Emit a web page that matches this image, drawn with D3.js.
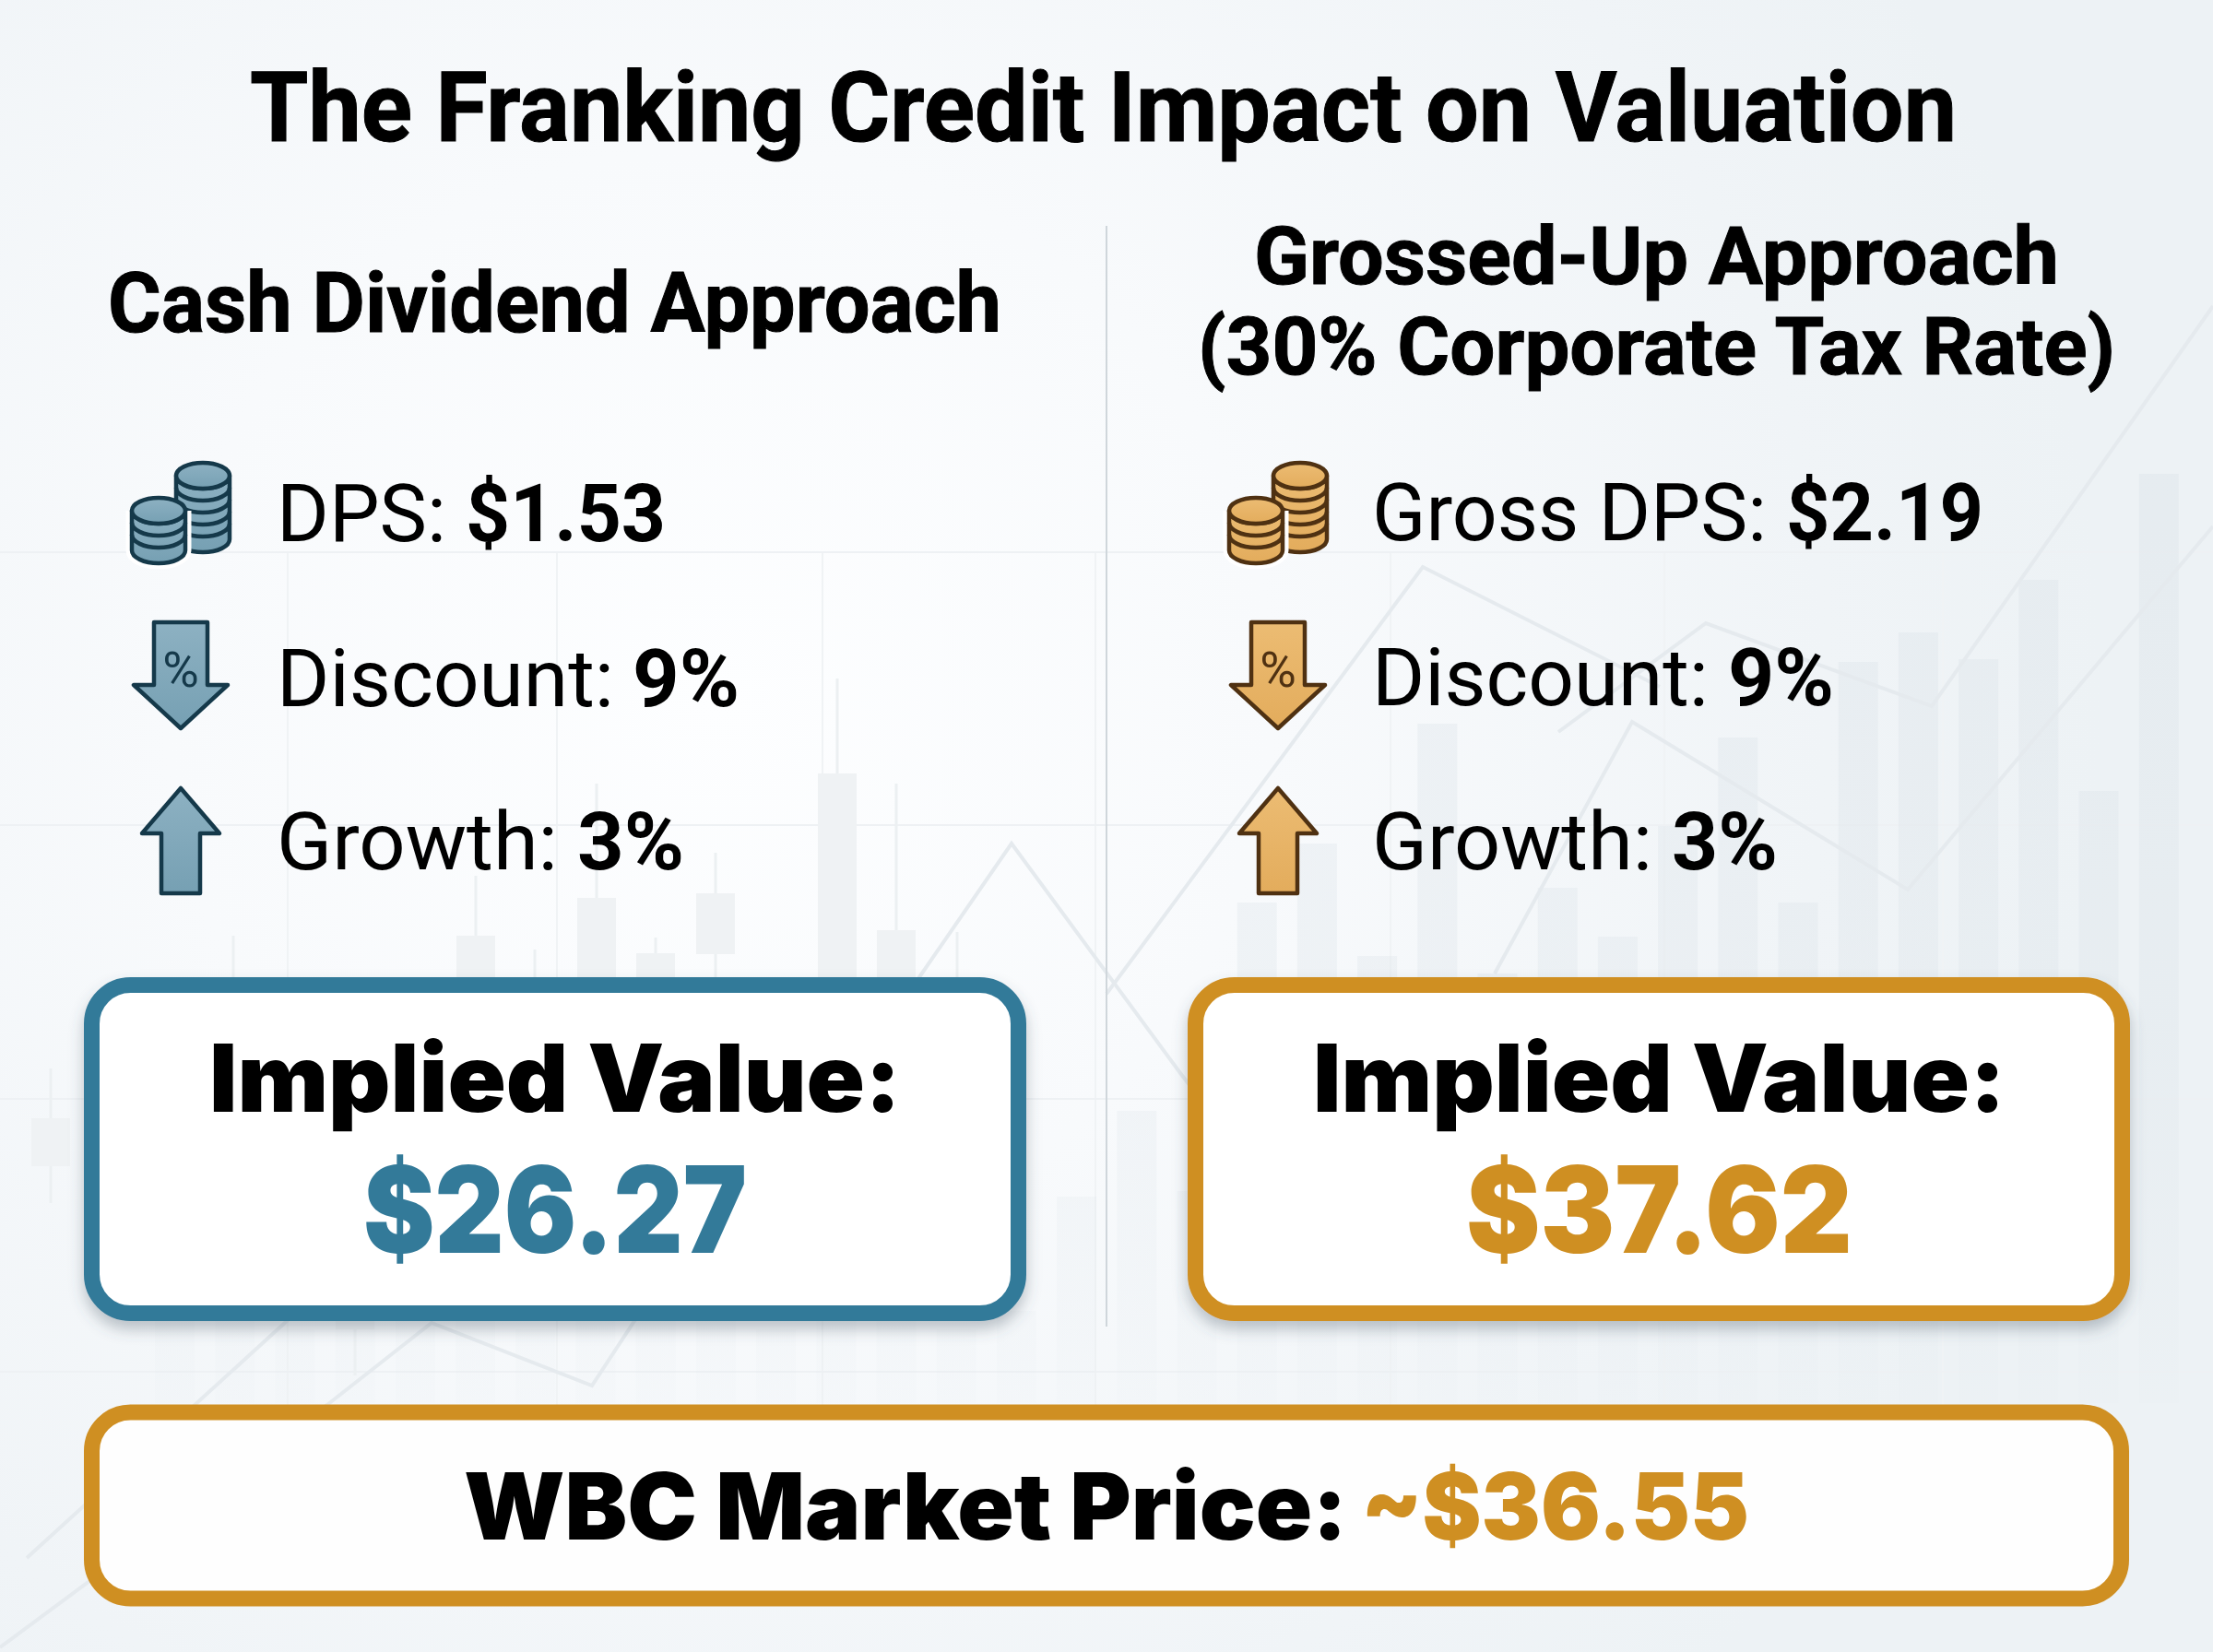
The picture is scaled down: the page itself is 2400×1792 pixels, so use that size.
<!DOCTYPE html>
<html>
<head>
<meta charset="utf-8">
<script src="https://cdn.jsdelivr.net/npm/d3@7/dist/d3.min.js"></script>
<style>
html, body { margin: 0; padding: 0; background: #fff; }
svg { display: block; }
</style>
</head>
<body>
<script>
// chart values
var titleText = "The Franking Credit Impact on Valuation";
var leftHead = ["Cash Dividend Approach"];
var rightHead = ["Grossed-Up Approach", "(30% Corporate Tax Rate)"];
var leftLabels = ["DPS:", "Discount:", "Growth:"];
var rightLabels = ["Gross DPS:", "Discount:", "Growth:"];
var leftValues = ["$1.53", "9%", "3%"];
var rightValues = ["$2.19", "9%", "3%"];
var impliedLabel = "Implied Value:";
var impliedValues = ["$26.27", "$37.62"];
var marketLabel = "WBC Market Price:";
var marketValue = "~$36.55";

// faint market picture in the background, x in tenths of the width, levels from the bottom
var barLevels = [36, 37, 35, 38, 36, 37, 35, 36, 38, 36, 35, 37, 36, 35, 37,
    49.4, 58.7, 50, 81.3, 87.7, 75.5, 100.7, 73.6, 82.9, 77.6, 89.6, 99.2, 81.3, 107.4, 110.6, 107.7, 116.3, 93.4, 127.8];
var candleX = [5.5, 25.3, 38.5, 51.6, 58, 64.7, 71.1, 77.6, 90.8, 97.2, 103.8];
var candleHigh = [63.3, 77.7, 60, 84.2, 76.2, 94.2, 77.5, 86.7, 105.6, 94.2, 78.1];
var candleTop = [57.9, 70, 55, 77.7, 70, 81.8, 75.8, 82.3, 95.3, 78.3, 70];
var candleBottom = [52.7, 60, 35, 65, 60, 65, 65, 75.7, 65, 65, 60];
var candleLow = [48.7, 55, 30, 60, 55, 60, 60, 72.7, 60, 60, 55];
var lineA = [[0, 0.5], [35.6, 26.9], [46.8, 35.7], [64.2, 28.9], [68.8, 35.9], [99.7, 73.2], [109.7, 87.7], [128, 62.8], [134, 55]];
var lineB = [[2.9, 10.2], [31.1, 35.9], [50, 55]];
var lineC = [[120, 71.4], [154.3, 117.7], [180, 104.7]];
var lineD = [[169, 99.8], [185, 111.6], [209.5, 102.6], [231.7, 134.2], [240, 146]];
var lineE = [[162.1, 73.6], [177, 100.9], [206.9, 82.7], [240, 122.1]];
var gridX = [31.2, 60.4, 89.2, 118.8, 150.8, 180.5, 210.7];
var gridY = [119.3, 89.7, 60, 30.4];

var W = 2400, H = 1792;
var blue = "#337a99", gold = "#cf8f22", ink = "#000";

var svg = d3.select("body").append("svg")
    .attr("width", W)
    .attr("height", H)
    .attr("viewBox", "0 0 " + W + " " + H);

var defs = svg.append("defs");

var bg = defs.append("radialGradient").attr("id", "bg")
    .attr("gradientUnits", "userSpaceOnUse")
    .attr("cx", 780).attr("cy", 760).attr("r", 1500);
bg.append("stop").attr("offset", 0).attr("stop-color", "#fdfeff");
bg.append("stop").attr("offset", 0.4).attr("stop-color", "#f8fafc");
bg.append("stop").attr("offset", 0.8).attr("stop-color", "#f0f4f7");
bg.append("stop").attr("offset", 1).attr("stop-color", "#edf2f5");

var barFade = defs.append("linearGradient").attr("id", "barFade")
    .attr("gradientUnits", "userSpaceOnUse")
    .attr("x1", 0).attr("x2", 0).attr("y1", 500).attr("y2", 1530);
barFade.append("stop").attr("offset", 0).attr("stop-color", "#d9e1e7").attr("stop-opacity", 0.36);
barFade.append("stop").attr("offset", 0.6).attr("stop-color", "#d9e1e7").attr("stop-opacity", 0.28);
barFade.append("stop").attr("offset", 1).attr("stop-color", "#d9e1e7").attr("stop-opacity", 0.05);

function iconFill(id, top, bottom) {
    var g = defs.append("linearGradient").attr("id", id)
        .attr("x1", 0).attr("x2", 0).attr("y1", 0).attr("y2", 1);
    g.append("stop").attr("offset", 0).attr("stop-color", top);
    g.append("stop").attr("offset", 1).attr("stop-color", bottom);
}
iconFill("blueFill", "#8db1c2", "#76a0b3");
iconFill("goldFill", "#ecbc73", "#e3ac5c");

var shadow = defs.append("filter").attr("id", "shadow")
    .attr("x", "-5%").attr("y", "-10%").attr("width", "110%").attr("height", "125%");
shadow.append("feDropShadow")
    .attr("dx", 0).attr("dy", 9).attr("stdDeviation", 8)
    .attr("flood-color", "#4a5a66").attr("flood-opacity", 0.35);

svg.append("rect").attr("width", W).attr("height", H).attr("fill", "url(#bg)");

// background scales
var xs = d3.scaleLinear().domain([0, 240]).range([0, W]);
var ys = d3.scaleLinear().domain([0, 179.2]).range([H, 0]);
var band = d3.scaleBand().domain(d3.range(barLevels.length))
    .range([157, 157 + barLevels.length * 65.2])
    .paddingInner(0.34).paddingOuter(0.17);
var line = d3.line().x(function (d) { return xs(d[0]); }).y(function (d) { return ys(d[1]); });

var back = svg.append("g");

back.append("g").selectAll("line").data(gridX).enter().append("line")
    .attr("x1", function (d) { return xs(d); })
    .attr("x2", function (d) { return xs(d); })
    .attr("y1", ys(119.3)).attr("y2", ys(26))
    .attr("stroke", "#f0f3f5").attr("stroke-width", 2);
back.append("g").selectAll("line").data(gridY).enter().append("line")
    .attr("x1", 0).attr("x2", W)
    .attr("y1", function (d) { return ys(d); })
    .attr("y2", function (d) { return ys(d); })
    .attr("stroke", "#eef1f4").attr("stroke-width", 2);

back.append("g").selectAll("rect").data(barLevels).enter().append("rect")
    .attr("x", function (d, i) { return band(i); })
    .attr("y", function (d) { return ys(d); })
    .attr("width", band.bandwidth())
    .attr("height", function (d) { return ys(27) - ys(d); })
    .attr("fill", "url(#barFade)");

back.append("g").selectAll("line").data(candleX).enter().append("line")
    .attr("x1", function (d) { return xs(d); })
    .attr("x2", function (d) { return xs(d); })
    .attr("y1", function (d, i) { return ys(candleHigh[i]); })
    .attr("y2", function (d, i) { return ys(candleLow[i]); })
    .attr("stroke", "#ecf0f2").attr("stroke-width", 3);
back.append("g").selectAll("rect").data(candleX).enter().append("rect")
    .attr("x", function (d) { return xs(d) - 21; })
    .attr("y", function (d, i) { return ys(candleTop[i]); })
    .attr("width", 42)
    .attr("height", function (d, i) { return ys(candleBottom[i]) - ys(candleTop[i]); })
    .attr("fill", "#eff2f4");

back.append("g").selectAll("path").data([lineA, lineB, lineC, lineD, lineE]).enter().append("path")
    .attr("d", line)
    .attr("fill", "none")
    .attr("stroke", "#e5eaee")
    .attr("stroke-width", 4);

// divider
svg.append("line")
    .attr("x1", 1200).attr("x2", 1200).attr("y1", 245).attr("y2", 1439)
    .attr("stroke", "#cfd6db").attr("stroke-width", 2);

// text squeezed to a measured span
function put(str, x0, x1, base, size, weight, color, family) {
    return svg.append("text")
        .attr("x", x0)
        .attr("y", base)
        .attr("textLength", x1 - x0)
        .attr("lengthAdjust", "spacingAndGlyphs")
        .attr("font-family", family || "Roboto")
        .attr("font-size", size)
        .attr("font-weight", weight)
        .attr("fill", color || ink)
        .text(str);
}

put(titleText, 271, 2122, 153, 106, 700).attr("stroke", ink).attr("stroke-width", 1);
put(leftHead[0], 117, 1086, 360, 90, 700).attr("stroke", ink).attr("stroke-width", 1);
put(rightHead[0], 1360, 2233, 308, 88, 700).attr("stroke", ink).attr("stroke-width", 1);
put(rightHead[1], 1299, 2294, 406, 88, 700).attr("stroke", ink).attr("stroke-width", 1);

var rowBase = [[587, 766, 943], [586, 765, 943]];
var leftSpans = [[300, 484, 505, 722], [300, 666, 686, 802], [300, 605, 626, 742]];
var rightSpans = [[1488, 1916, 1937, 2151], [1488, 1853, 1874, 1989], [1488, 1792, 1813, 1928]];

leftLabels.forEach(function (t, i) {
    var s = leftSpans[i];
    put(t, s[0], s[1], rowBase[0][i], 88, 400);
    put(leftValues[i], s[2], s[3], rowBase[0][i], 88, 700);
});
rightLabels.forEach(function (t, i) {
    var s = rightSpans[i];
    put(t, s[0], s[1], rowBase[1][i], 88, 400);
    put(rightValues[i], s[2], s[3], rowBase[1][i], 88, 700);
});

// icons
function coinStack(g, cx, top, bottom, rx, ry, fill, dark, halo) {
    var side = "M" + (cx - rx) + "," + (top + ry) + "V" + (bottom - ry) +
        "A" + rx + "," + ry + " 0 0 0 " + (cx + rx) + "," + (bottom - ry) +
        "V" + (top + ry) + "A" + rx + "," + ry + " 0 0 1 " + (cx - rx) + "," + (top + ry) + "Z";
    if (halo) {
        g.append("path").attr("d", side).attr("fill", "#fff").attr("stroke", "#fff").attr("stroke-width", 13);
    }
    g.append("path").attr("d", side).attr("fill", fill).attr("stroke", dark)
        .attr("stroke-width", 4.5).attr("stroke-linejoin", "round");
    var gaps = d3.range(top + ry + 13, bottom - ry - 4, 13);
    gaps.forEach(function (y) {
        g.append("path")
            .attr("d", "M" + (cx - rx) + "," + y + "A" + rx + "," + ry + " 0 0 0 " + (cx + rx) + "," + y)
            .attr("fill", "none").attr("stroke", dark).attr("stroke-width", 4.5);
    });
    g.append("ellipse").attr("cx", cx).attr("cy", top + ry).attr("rx", rx).attr("ry", ry)
        .attr("fill", fill).attr("stroke", dark).attr("stroke-width", 4.5);
}

function icons(dx, fill, dark) {
    var g = svg.append("g").attr("transform", "translate(" + dx + ",0)");
    coinStack(g, 220, 502, 599, 29, 14, fill, dark, false);
    coinStack(g, 172, 540, 611, 29, 14, fill, dark, true);

    g.append("path")
        .attr("d", "M167,675H225V743H247L196,790L145,743H167Z")
        .attr("fill", fill).attr("stroke", dark).attr("stroke-width", 4.5).attr("stroke-linejoin", "round");
    g.append("text")
        .attr("x", 196).attr("y", 745).attr("text-anchor", "middle")
        .attr("font-family", "Roboto").attr("font-size", 54).attr("font-weight", 400)
        .attr("fill", dark).text("%");

    g.append("path")
        .attr("d", "M196,855L238,904H217V969H175V904H154Z")
        .attr("fill", fill).attr("stroke", dark).attr("stroke-width", 4.5).attr("stroke-linejoin", "round");
}
icons(0, "url(#blueFill)", "#15394a");
icons(1190, "url(#goldFill)", "#4f3112");

// result boxes
var boxes = [
    { x: 99.5, color: blue, span: [227, 977], value: [394, 810] },
    { x: 1296.5, color: gold, span: [1424, 2175], value: [1590, 2009] }
];
boxes.forEach(function (b, i) {
    svg.append("rect")
        .attr("x", b.x).attr("y", 1068.5)
        .attr("width", 1005).attr("height", 356)
        .attr("rx", 42)
        .attr("fill", "#fff")
        .attr("stroke", b.color).attr("stroke-width", 17)
        .attr("filter", "url(#shadow)");
    put(impliedLabel, b.span[0], b.span[1], 1206, 102, 900, ink, "Inter");
    put(impliedValues[i], b.value[0], b.value[1], 1359, 130, 900, b.color, "Inter");
});

svg.append("rect")
    .attr("x", 99.5).attr("y", 1532)
    .attr("width", 2201).attr("height", 202)
    .attr("rx", 42)
    .attr("fill", "#fefefe")
    .attr("stroke", gold).attr("stroke-width", 17);
put(marketLabel, 503, 1461, 1670, 100, 900, ink, "Inter");
put(marketValue, 1476, 1897, 1670, 100, 900, gold, "Inter");
</script>
</body>
</html>
